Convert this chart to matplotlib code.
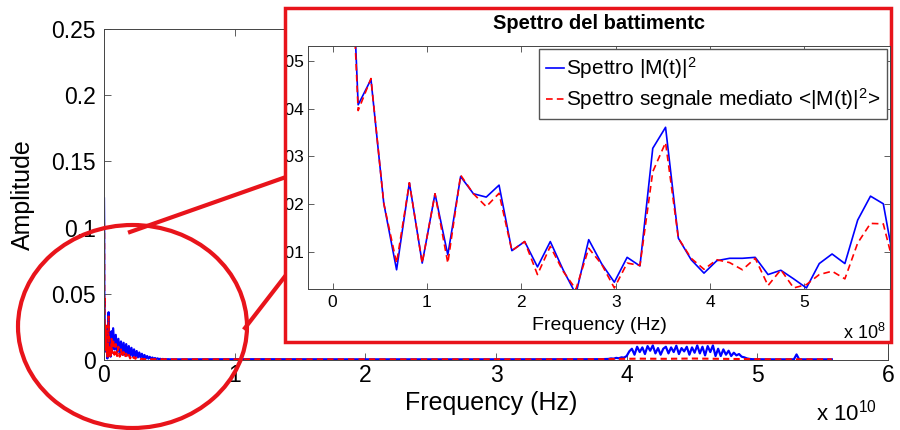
import numpy as np
import matplotlib
matplotlib.use('Agg')
import matplotlib.pyplot as plt
from matplotlib.patches import Ellipse, Rectangle
from matplotlib.lines import Line2D
from matplotlib.transforms import Bbox, TransformedBbox

plt.rcParams['font.family'] = ['Liberation Sans', 'DejaVu Sans']
plt.rcParams['mathtext.default'] = 'regular'

# spectrum samples (step ~1.357e7 Hz) shown in the zoom
df = 1.357e7
zoom_blue = [0.122, 0.105, 0.0408, 0.0461, 0.0202, 0.0063, 0.0245, 0.0077, 0.0222, 0.0094,
             0.0258, 0.0222, 0.0215, 0.0240, 0.0103, 0.0122, 0.0069, 0.0122, 0.0063, 0.0012,
             0.0126, 0.0076, 0.0037, 0.0089, 0.0071, 0.0317, 0.0361, 0.0129, 0.0084, 0.0056,
             0.0082, 0.0087, 0.0087, 0.0089, 0.0053, 0.0062, 0.0044, 0.0025, 0.0076, 0.0096,
             0.0076, 0.0167, 0.0217, 0.0201, 0.0053]
zoom_red = [0.104, 0.100, 0.0396, 0.0463, 0.0202, 0.0077, 0.0245, 0.0077, 0.0222, 0.0077,
            0.0261, 0.0222, 0.0195, 0.0223, 0.0103, 0.0122, 0.0053, 0.0112, 0.0060, 0.0022,
            0.0108, 0.0075, 0.0025, 0.0077, 0.0072, 0.0268, 0.0329, 0.0129, 0.0087, 0.0064,
            0.0084, 0.0078, 0.0063, 0.0087, 0.0030, 0.0063, 0.0025, 0.0032, 0.0053, 0.0060,
            0.0044, 0.0119, 0.0160, 0.0159, 0.0053]
zoom_f = np.arange(len(zoom_blue)) * df

# rest of the full spectrum
low_f = np.arange(7, 51) * 1e8
blue_low = [0.024, 0.008, 0.019, 0.006, 0.016, 0.005, 0.014, 0.004, 0.013, 0.004,
            0.012, 0.0035, 0.0105, 0.003, 0.0092, 0.0028, 0.0080, 0.0025, 0.0068, 0.002,
            0.0057, 0.0018, 0.0047, 0.0015, 0.0038, 0.0012, 0.0030, 0.0010, 0.0024, 0.0009,
            0.0019, 0.0008, 0.0015, 0.0007, 0.0012, 0.0006, 0.0009, 0.0005, 0.0008, 0.0005,
            0.0007, 0.0005, 0.0006, 0.0005]
red_low = [0.016, 0.004, 0.012, 0.003, 0.010, 0.0025, 0.008, 0.002, 0.006, 0.0018,
           0.0048, 0.0015, 0.0038, 0.0012, 0.0030, 0.0010, 0.0023, 0.0009, 0.0018, 0.0008,
           0.0013, 0.0007, 0.0010, 0.0006, 0.0007, 0.0005, 0.0007, 0.0005, 0.0007, 0.0005,
           0.0006, 0.0005, 0.0006, 0.0005, 0.0006, 0.0005, 0.0006, 0.0005, 0.0006, 0.0005,
           0.0006, 0.0005, 0.0006, 0.0005]

mid_f = [0.6e10, 1.2e10, 2.0e10, 2.8e10, 3.4e10, 3.8e10]
blue_mid = [0.0005, 0.0006, 0.0005, 0.0005, 0.0006, 0.0006]
red_mid = [0.0005, 0.0005, 0.0005, 0.0005, 0.0005, 0.0006]

bump_f = np.arange(386, 497, 2) * 1e8
blue_bump = [0.0008, 0.0012, 0.0010, 0.0016, 0.0013, 0.0020, 0.0018, 0.0030, 0.0065, 0.0085,
             0.0040, 0.0100, 0.0060, 0.0095, 0.0045, 0.0105, 0.0070, 0.0110, 0.0050, 0.0090,
             0.0040, 0.0085, 0.0100, 0.0050, 0.0095, 0.0060, 0.0108, 0.0045, 0.0090, 0.0065,
             0.0100, 0.0040, 0.0095, 0.0055, 0.0110, 0.0050, 0.0100, 0.0035, 0.0105, 0.0060,
             0.0110, 0.0030, 0.0085, 0.0030, 0.0080, 0.0040, 0.0070, 0.0030, 0.0055, 0.0035,
             0.0045, 0.0025, 0.0020, 0.0012, 0.0008, 0.0006]
red_bump_f = [3.9e10, 4.1e10, 4.3e10, 4.5e10, 4.7e10, 4.9e10]
red_bump = [0.0008, 0.0010, 0.0009, 0.0011, 0.0009, 0.0007]

tail_f = [5.1e10, 5.28e10, 5.30e10, 5.32e10, 5.45e10, 5.57e10]
blue_tail = [0.0005, 0.0005, 0.0042, 0.0005, 0.0005, 0.0005]
red_tail_f = [5.1e10, 5.3e10, 5.57e10]
red_tail = [0.0005, 0.0005, 0.0005]

x_ticks = np.arange(7) * 1e10
x_labels = ['0', '1', '2', '3', '4', '5', '6']
y_ticks = [0, 0.05, 0.1, 0.15, 0.2, 0.25]
y_labels = ['0', '0.05', '0.1', '0.15', '0.2', '0.25']
zx_ticks = np.arange(6) * 1e8
zx_labels = ['0', '1', '2', '3', '4', '5']
zy_ticks = [0.01, 0.02, 0.03, 0.04, 0.05]
zy_labels = ['0.01', '0.02', '0.03', '0.04', '0.05']

RED = '#e8141b'
W, H = 900, 430

f_blue = np.concatenate([zoom_f, low_f, mid_f, bump_f, tail_f])
a_blue = np.concatenate([zoom_blue, blue_low, blue_mid, blue_bump, blue_tail])
f_red = np.concatenate([zoom_f, low_f, mid_f, red_bump_f, red_tail_f])
a_red = np.concatenate([zoom_red, red_low, red_mid, red_bump, red_tail])

fig = plt.figure(figsize=(9, 4.3), dpi=100)

# main plot
ax = fig.add_axes([104 / W, 70 / H, 784 / W, 331 / H])
ax.plot(f_blue, a_blue, color='b', lw=1.6)
ax.plot(f_red, a_red, color='r', lw=1.5, ls='--', dashes=(3, 2))
ax.set_xlim(0, 6e10)
ax.set_ylim(0, 0.25)
ax.set_xticks(x_ticks, labels=x_labels)
ax.set_yticks(y_ticks, labels=y_labels)
ax.tick_params(direction='in', top=True, right=True, length=5, width=0.6,
               labelsize=16.5, color='#444444')
ax.tick_params(axis='x', pad=3)
ax.tick_params(axis='y', pad=6)
for s in ax.spines.values():
    s.set_color('#444444')
    s.set_linewidth(0.7)
ax.set_xlabel('Frequency (Hz)', fontsize=18)
ax.xaxis.set_label_coords(0.4936, -0.095)
ax.set_ylabel('Amplitude', fontsize=18)
ax.yaxis.set_label_coords(-0.088, 0.50)
fig.text(816 / W, 1 - 421 / H, 'x 10$^{10}$', fontsize=16, va='baseline')

# circle and connectors
fig.add_artist(Ellipse((132.5 / W, 1 - 326.5 / H), 229 / W, 203 / H,
                       transform=fig.transFigure, fill=False, ec=RED, lw=3, zorder=3))
fig.add_artist(Line2D([130 / W, 286 / W], [1 - 232 / H, 1 - 177 / H],
                      transform=fig.transFigure, color=RED, lw=3, zorder=3))
fig.add_artist(Line2D([245 / W, 286 / W], [1 - 328 / H, 1 - 275 / H],
                      transform=fig.transFigure, color=RED, lw=3, zorder=3))

# zoom panel
panel = Rectangle((285 / W, 1 - 342 / H), 606 / W, 334 / H, transform=fig.transFigure,
                  fc='white', ec=RED, lw=2.5, zorder=4)
fig.add_artist(panel)

axin = fig.add_axes([308 / W, 1 - 289 / H, 582 / W, 243 / H])
axin.set_zorder(5)
axin.plot(zoom_f, zoom_blue, color='b', lw=1.2, label='Spettro |M(t)|$^2$')
axin.plot(zoom_f, zoom_red, color='r', lw=1.2, ls='--', dashes=(4, 2.5),
          label='Spettro segnale mediato <|M(t)|$^2$>')
axin.set_xlim(-0.26e8, 5.906e8)
axin.set_ylim(0.00228, 0.0531)
axin.set_xticks(zx_ticks, labels=zx_labels)
axin.set_yticks(zy_ticks, labels=zy_labels)
axin.tick_params(direction='in', top=True, right=True, length=4, width=0.6,
                 labelsize=12.5, color='#444444')
axin.tick_params(axis='x', pad=4)
axin.tick_params(axis='y', pad=3)
for s in axin.spines.values():
    s.set_color('#444444')
    s.set_linewidth(0.7)
clip = TransformedBbox(Bbox.from_extents(287 / W, 0, 1, 1), fig.transFigure)
for lab in axin.get_yticklabels():
    lab.set_clip_box(clip)
    lab.set_clip_on(True)
axin.set_title('Spettro del battimentc', fontsize=14.5, fontweight='bold', pad=12)
axin.set_xlabel('Frequency (Hz)', fontsize=14)
axin.xaxis.set_label_coords(0.5, -0.115)
fig.text(843 / W, 1 - 339 / H, 'x 10$^8$', fontsize=13, va='baseline', zorder=6)
axin.legend(loc='upper right', fontsize=15, handlelength=0.9, handletextpad=0.1,
            labelspacing=0.25, borderpad=0.3, borderaxespad=0.15, fancybox=False,
            edgecolor='#555555', framealpha=1)

fig.savefig('out.png', dpi=100)
